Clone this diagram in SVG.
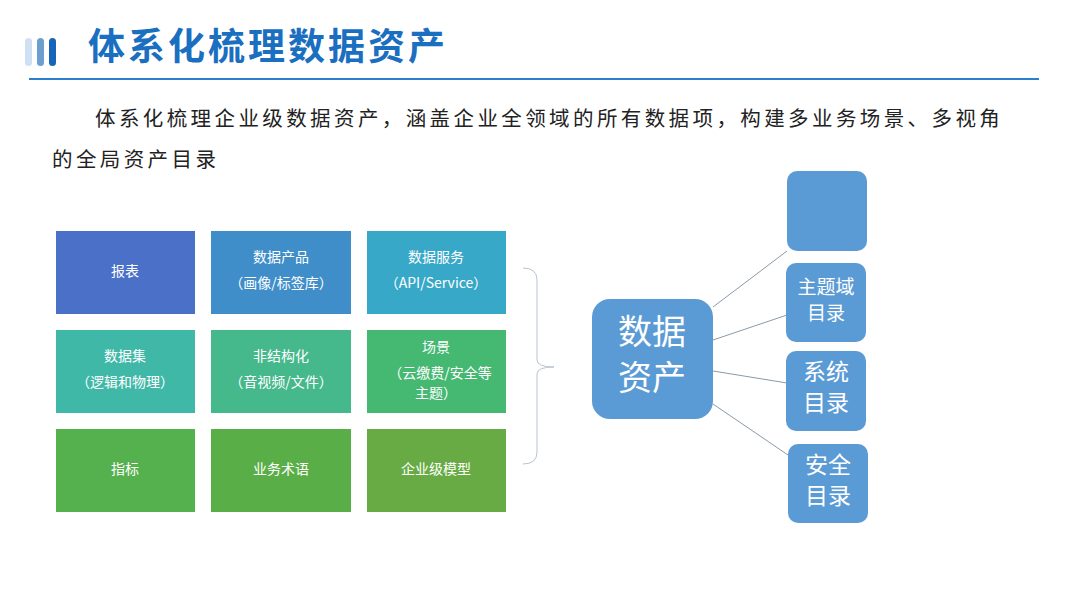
<svg xmlns="http://www.w3.org/2000/svg" width="1080" height="608" viewBox="0 0 1080 608">
<style>
text{font-family:"Noto Sans CJK SC","Liberation Sans",sans-serif}
.g{fill:#fff;font-size:14px;text-anchor:middle}
.r{fill:#5b9bd5}
.w{fill:#fff;text-anchor:middle}
</style>
<rect width="1080" height="608" fill="#fff"/>
<rect x="25" y="38" width="7" height="28" rx="3.5" fill="#d0e0f4"/>
<rect x="37" y="38" width="7" height="28" rx="3.5" fill="#6a9fd0"/>
<rect x="49" y="38" width="7" height="28" rx="3.5" fill="#1565b8"/>
<text x="88" y="60" font-size="37" font-weight="bold" letter-spacing="3" fill="#1a6fc0">体系化梳理数据资产</text>
<rect x="29" y="78" width="1010" height="2" fill="#2a7fcf"/>
<text x="95" y="126" font-size="20.5" letter-spacing="3.4" fill="#222">体系化梳理企业级数据资产，涵盖企业全领域的所有数据项，构建多业务场景、多视角</text>
<text x="52" y="167" font-size="20.5" letter-spacing="3.4" fill="#222">的全局资产目录</text>
<g id="n1"><rect x="56" y="231" width="139" height="83" fill="#4a70c8"/><text class="g" x="125" y="276">报表</text></g>
<g id="n2"><rect x="211" y="231" width="140" height="83" fill="#3f8ec9"/><text class="g" x="281" y="262">数据产品</text><text class="g" x="281" y="288">（画像/标签库）</text></g>
<g id="n3"><rect x="367" y="231" width="139" height="83" fill="#37a8c8"/><text class="g" x="436" y="262">数据服务</text><text class="g" x="436" y="288">（API/Service）</text></g>
<g id="n4"><rect x="56" y="330" width="139" height="83" fill="#3fb8a8"/><text class="g" x="125" y="361">数据集</text><text class="g" x="125" y="387">（逻辑和物理）</text></g>
<g id="n5"><rect x="211" y="330" width="140" height="83" fill="#45b88c"/><text class="g" x="281" y="361">非结构化</text><text class="g" x="281" y="387">（音视频/文件）</text></g>
<g id="n6"><rect x="367" y="330" width="139" height="83" fill="#45b872"/><text class="g" x="436" y="352">场景</text><text class="g" x="440" y="378">（云缴费/安全等</text><text class="g" x="436" y="398">主题）</text></g>
<g id="n7"><rect x="56" y="429" width="139" height="83" fill="#55b04e"/><text class="g" x="125" y="474">指标</text></g>
<g id="n8"><rect x="211" y="429" width="140" height="83" fill="#5aae48"/><text class="g" x="281" y="474">业务术语</text></g>
<g id="n9"><rect x="367" y="429" width="139" height="83" fill="#68ab44"/><text class="g" x="436" y="474">企业级模型</text></g>
<path d="M523 268 Q537 268 537 280 L537 360 Q537 367 554 367 Q537 367 537 374 L537 452 Q537 464 523 464" fill="none" stroke="#b8c4d0" stroke-width="1"/>
<g id="connectors" stroke="#8a9aa8" stroke-width="1">
<line x1="713" y1="307" x2="787" y2="251"/>
<line x1="713" y1="340" x2="787" y2="315"/>
<line x1="713" y1="371" x2="787" y2="383"/>
<line x1="713" y1="404" x2="788" y2="455"/>
</g>
<g id="center"><rect class="r" x="592" y="299" width="121" height="120" rx="18"/><text class="w" x="652" y="344" style="font-size:34px">数据</text><text class="w" x="652" y="390" style="font-size:34px">资产</text></g>
<g id="b1"><rect class="r" x="787" y="171" width="80" height="80" rx="10"/></g>
<g id="b2"><rect class="r" x="786" y="263" width="80" height="79" rx="10"/><text class="w" x="826" y="294" style="font-size:19px">主题域</text><text class="w" x="826" y="320" style="font-size:19px">目录</text></g>
<g id="b3"><rect class="r" x="786" y="351" width="80" height="80" rx="10"/><text class="w" x="826" y="380" style="font-size:23px">系统</text><text class="w" x="826" y="411" style="font-size:23px">目录</text></g>
<g id="b4"><rect class="r" x="788" y="444" width="80" height="79" rx="10"/><text class="w" x="828" y="473" style="font-size:23px">安全</text><text class="w" x="828" y="504" style="font-size:23px">目录</text></g>
</svg>
